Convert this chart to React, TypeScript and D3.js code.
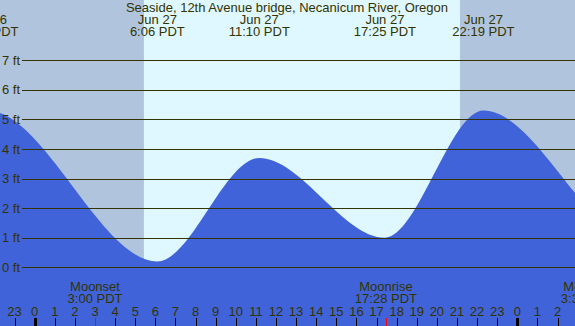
import { useEffect, useRef } from "react";
import * as d3 from "d3";

// hours relative to Jun 27 00:00 PDT
const tideHours = [-8.6, -2.35, 6.1, 11.167, 17.417, 22.317, 30.3, 36.5];
const tideFeet = [0.3, 5.3, 0.2, 3.7, 1.0, 5.3, 0.7, 4.4];
const tideDates = ["", "Jun 26", "Jun 27", "Jun 27", "Jun 27", "Jun 27", "", ""];
const tideTimes = ["", "21:39 PDT", "6:06 PDT", "11:10 PDT", "17:25 PDT", "22:19 PDT", "", ""];

const sunrise = 5.43;
const sunset = 21.15;

const moonHours = [3, 17.467, 27.53];
const moonNames = ["Moonset", "Moonrise", "Moonset"];
const moonTimes = ["3:00 PDT", "17:28 PDT", "3:32 PDT"];

const feetTicks = [0, 1, 2, 3, 4, 5, 6, 7];
const hourTicks = d3.range(-1, 27);

const title = "Seaside, 12th Avenue bridge, Necanicum River, Oregon";

const W = 575;
const H = 326;
const textColor = "#333300";
const font = "'Liberation Sans', Arial, sans-serif";
const fs = 13;

const App = () => {
  const svgRef = useRef<SVGSVGElement | null>(null);

  useEffect(() => {
    const svg = d3.select(svgRef.current);
    svg.selectAll("*").remove();

    const x = d3.scaleLinear().domain([-1.726, 26.87]).range([0, W]);
    const y = d3.scaleLinear().domain([0, 7]).range([267.3, 60.3]);

    // night / day background
    svg.append("rect").attr("width", W).attr("height", H).attr("fill", "#b0c4de");
    svg
      .append("rect")
      .attr("x", x(sunrise))
      .attr("width", x(sunset) - x(sunrise))
      .attr("height", H)
      .attr("fill", "#dff7ff");

    const pts = tideHours.map((h, i) => [h, tideFeet[i]] as [number, number]);
    const area = d3
      .area<[number, number]>()
      .x((d) => x(d[0]))
      .y0(H)
      .y1((d) => y(d[1]))
      .curve(d3.curveMonotoneX);

    svg.append("path").datum(pts).attr("fill", "#4163d9").attr("d", area);

    // grid lines
    const g = svg.append("g");
    g.selectAll("line")
      .data(feetTicks)
      .enter()
      .append("line")
      .attr("x1", 22)
      .attr("x2", W)
      .attr("y1", (d) => Math.round(y(d)) + 0.5)
      .attr("y2", (d) => Math.round(y(d)) + 0.5)
      .attr("stroke", textColor)
      .attr("stroke-width", 1);

    g.selectAll("text")
      .data(feetTicks)
      .enter()
      .append("text")
      .attr("x", 2)
      .attr("y", (d) => y(d) + 4.5)
      .attr("font-family", font)
      .attr("font-size", fs)
      .attr("fill", textColor)
      .text((d) => `${d} ft`);

    // title and tide labels
    svg
      .append("text")
      .attr("x", 287)
      .attr("y", 12)
      .attr("text-anchor", "middle")
      .attr("font-family", font)
      .attr("font-size", fs)
      .attr("fill", textColor)
      .text(title);

    const labels = svg
      .append("g")
      .selectAll("g")
      .data(tideHours.map((h, i) => i).filter((i) => tideTimes[i] !== ""))
      .enter()
      .append("g")
      .attr("font-family", font)
      .attr("font-size", fs)
      .attr("fill", textColor)
      .attr("text-anchor", "middle");
    labels.append("text").attr("x", (i) => x(tideHours[i])).attr("y", 24).text((i) => tideDates[i]);
    labels.append("text").attr("x", (i) => x(tideHours[i])).attr("y", 36).text((i) => tideTimes[i]);

    // moon events
    const moon = svg
      .append("g")
      .selectAll("g")
      .data(moonHours.map((h, i) => i))
      .enter()
      .append("g")
      .attr("font-family", font)
      .attr("font-size", fs)
      .attr("fill", textColor)
      .attr("text-anchor", "middle");
    moon.append("text").attr("x", (i) => x(moonHours[i])).attr("y", 291).text((i) => moonNames[i]);
    moon.append("text").attr("x", (i) => x(moonHours[i])).attr("y", 303).text((i) => moonTimes[i]);
    moon
      .append("line")
      .attr("x1", (i) => Math.round(x(moonHours[i])) + 0.5)
      .attr("x2", (i) => Math.round(x(moonHours[i])) + 0.5)
      .attr("y1", 318)
      .attr("y2", H)
      .attr("stroke", "#ff0000");

    // hour axis
    const hours = svg.append("g").selectAll("g").data(hourTicks).enter().append("g");
    hours
      .append("line")
      .attr("x1", (h) => Math.round(x(h)) + 0.5)
      .attr("x2", (h) => Math.round(x(h)) + 0.5)
      .attr("y1", 318)
      .attr("y2", H)
      .attr("stroke", (h) => (h === 3 ? "#ff0000" : "#000"))
      .attr("stroke-width", (h) => (h % 24 === 0 ? 3 : 1));
    hours
      .append("text")
      .attr("x", (h) => x(h))
      .attr("y", 316)
      .attr("text-anchor", "middle")
      .attr("font-family", font)
      .attr("font-size", fs)
      .attr("fill", textColor)
      .text((h) => String((h + 24) % 24));
  }, []);

  return (
    <svg
      ref={svgRef}
      width={W}
      height={H}
      style={{ position: "fixed", left: 0, top: 0, display: "block" }}
    />
  );
};

export default App;
